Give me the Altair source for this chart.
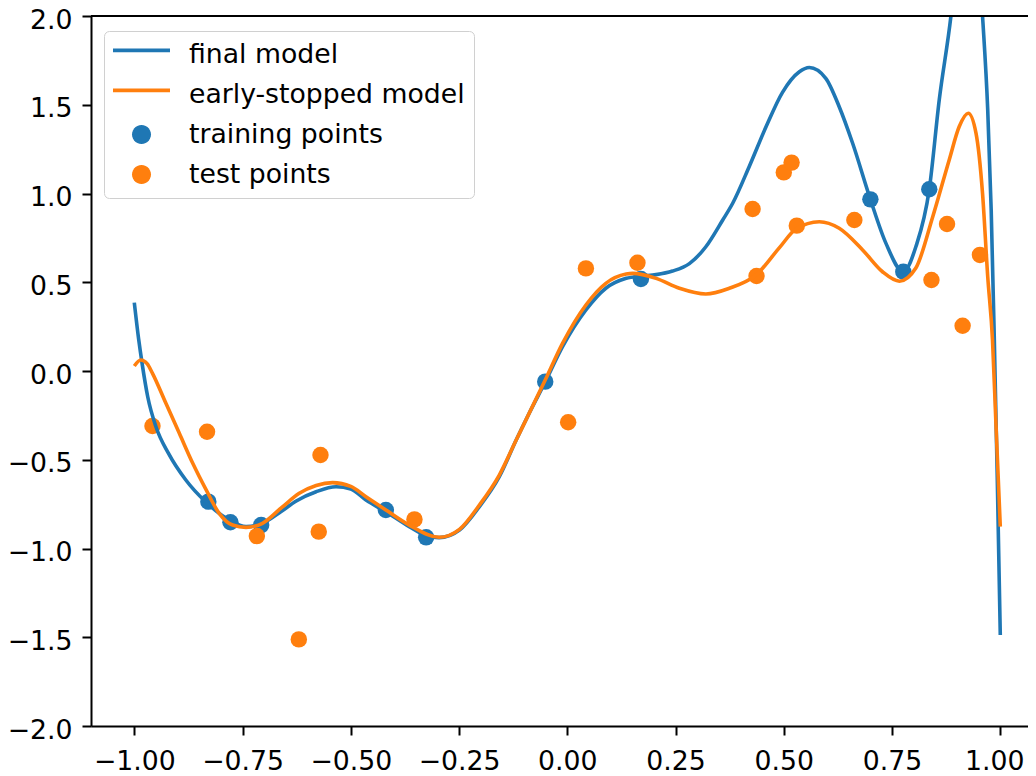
import math
import altair as alt
import pandas as pd

# ---------------- data ----------------
final_x = [-1.000, -0.990, -0.982, -0.969, -0.950, -0.921, -0.881, -0.836, -0.781, -0.742,
           -0.704, -0.660, -0.626, -0.580, -0.534, -0.500, -0.465, -0.419, -0.365, -0.326,
           -0.296, -0.249, -0.203, -0.157, -0.118, -0.088, -0.051, -0.011, 0.043, 0.089,
           0.136, 0.170, 0.205, 0.243, 0.282, 0.320, 0.359, 0.382, 0.420, 0.459, 0.497,
           0.536, 0.559, 0.597, 0.628, 0.659, 0.700, 0.736, 0.776, 0.805, 0.836,
           0.859, 0.886, 0.905, 0.925, 0.945, 0.959, 0.971, 0.979, 0.986, 0.993, 1.000]
final_y = [0.385, 0.180, 0.043, -0.145, -0.314, -0.464, -0.614, -0.735, -0.839, -0.877,
           -0.858, -0.790, -0.732, -0.680, -0.652, -0.665, -0.727, -0.793, -0.877, -0.928,
           -0.939, -0.896, -0.764, -0.595, -0.389, -0.238, -0.062, 0.137, 0.344, 0.466,
           0.522, 0.535, 0.543, 0.563, 0.605, 0.700, 0.851, 0.945, 1.151, 1.376, 1.570,
           1.686, 1.710, 1.649, 1.489, 1.283, 0.967, 0.719, 0.559, 0.700, 1.024,
           1.527, 2.000, 2.450, 2.700, 2.500, 2.000, 1.470, 0.907, 0.200, -0.600, -1.487]

early_x = [-1.000, -0.985, -0.970, -0.958, -0.927, -0.896, -0.865, -0.834, -0.804, -0.773,
           -0.742, -0.704, -0.660, -0.619, -0.580, -0.542, -0.500, -0.465, -0.419, -0.365,
           -0.296, -0.249, -0.203, -0.157, -0.118, -0.051, -0.011, 0.043, 0.089, 0.136,
           0.151, 0.205, 0.259, 0.320, 0.374, 0.436, 0.490, 0.528, 0.582, 0.628,
           0.682, 0.728, 0.767, 0.805, 0.844, 0.882, 0.905, 0.926, 0.944, 0.959,
           0.971, 0.982, 0.990, 1.000]
early_y = [0.028, 0.062, 0.040, -0.013, -0.182, -0.351, -0.520, -0.670, -0.802, -0.868,
           -0.881, -0.858, -0.770, -0.689, -0.645, -0.629, -0.650, -0.708, -0.783, -0.868,
           -0.937, -0.892, -0.755, -0.586, -0.389, -0.051, 0.156, 0.372, 0.494, 0.546,
           0.550, 0.522, 0.466, 0.434, 0.466, 0.541, 0.695, 0.800, 0.841, 0.804,
           0.682, 0.559, 0.506, 0.580, 0.869, 1.189, 1.376, 1.452, 1.339, 1.001,
           0.531, 0.175, -0.300, -0.877]

train_x = [-0.829, -0.778, -0.707, -0.419, -0.326, -0.051, 0.170, 0.700, 0.776, 0.836]
train_y = [-0.736, -0.852, -0.868, -0.783, -0.937, -0.060, 0.518, 0.967, 0.559, 1.024]

test_x = [-0.958, -0.832, -0.717, -0.620, -0.574, -0.570, -0.353, 0.002, 0.043, 0.162,
          0.428, 0.437, 0.500, 0.518, 0.530, 0.663, 0.841, 0.877, 0.913, 0.953]
test_y = [-0.310, -0.342, -0.930, -1.512, -0.905, -0.473, -0.836, -0.289, 0.578, 0.610,
          0.913, 0.535, 1.119, 1.174, 0.819, 0.851, 0.513, 0.828, 0.255, 0.654]

series_names = ["final model", "early-stopped model", "training points", "test points"]
series_colors = ["#1f77b4", "#ff7f0e", "#1f77b4", "#ff7f0e"]
BLUE, ORANGE = series_colors[0], series_colors[1]

x_ticks = [-1.0, -0.75, -0.5, -0.25, 0.0, 0.25, 0.5, 0.75, 1.0]
y_ticks = [-2.0, -1.5, -1.0, -0.5, 0.0, 0.5, 1.0, 1.5, 2.0]
top_spine_y = [2.0]

# legend glyphs (unit-square symbol paths): a short line and a dot
LINE_GLYPH = "M-1,-0.212L1,-0.212L1,-0.082L-1,-0.082Z"
_r, _dy = 0.333, 0.0
_pts = [(_r * math.cos(2 * math.pi * k / 28), _dy + _r * math.sin(2 * math.pi * k / 28)) for k in range(28)]
DOT_GLYPH = "M" + "L".join(f"{px:.4f},{py:.4f}" for px, py in _pts) + "Z"
legend_glyphs = [LINE_GLYPH, LINE_GLYPH, DOT_GLYPH, DOT_GLYPH]

# ---------------- tables ----------------
final_df = pd.DataFrame({"x": final_x, "y": final_y})
early_df = pd.DataFrame({"x": early_x, "y": early_y})
train_df = pd.DataFrame({"x": train_x, "y": train_y})
test_df = pd.DataFrame({"x": test_x, "y": test_y})
spine_df = pd.DataFrame({"y": top_spine_y})
# legend-only rows, placed outside the visible x-domain (clipped away)
legend_df = pd.DataFrame({"x": [5.0] * 4, "y": [0.0] * 4, "series": series_names})

FONT = "DejaVu Sans"
FS = 26.7

x_scale = alt.Scale(domain=[-1.1, 1.064], nice=False, zero=False)
y_scale = alt.Scale(domain=[-2.0, 2.0], nice=False, zero=False)
color_scale = alt.Scale(domain=series_names, range=series_colors)
shape_scale = alt.Scale(domain=series_names, range=legend_glyphs)

legend = alt.Legend(
    title=None,
    orient="none",
    legendX=13,
    legendY=15,
    labelFont=FONT,
    labelFontSize=FS,
    labelColor="#000000",
    labelLimit=600,
    fillColor="#ffffff",
    strokeColor="#d0d0d0",
    cornerRadius=5,
    padding=9,
    rowPadding=11,
    symbolOffset=0,
    labelOffset=19,
    clipHeight=29,
    symbolSize=3249,
    symbolStrokeWidth=0,
    symbolOpacity=1,
)

x_axis = alt.Axis(
    values=x_ticks, format=".2f", title=None, grid=False,
    labelFont=FONT, labelFontSize=FS, labelColor="#000000", labelPadding=13,
    labelOffset={"condition": {"test": "datum.value >= 1", "value": -6}, "value": 0},
    tickSize=9, tickWidth=2, tickColor="#000000",
    domainColor="#000000", domainWidth=2, labelFlush=False,
)
y_axis = alt.Axis(
    values=y_ticks, format=".1f", title=None, grid=False,
    labelFont=FONT, labelFontSize=FS, labelColor="#000000", labelPadding=10,
    labelOffset=4,
    tickSize=9, tickWidth=2, tickColor="#000000",
    domainColor="#000000", domainWidth=2, labelFlush=False,
)

train_pts = alt.Chart(train_df).mark_circle(size=270, opacity=1).encode(
    x=alt.X("x:Q", scale=x_scale, axis=x_axis),
    y=alt.Y("y:Q", scale=y_scale, axis=y_axis),
    color=alt.value(BLUE),
)
test_pts = alt.Chart(test_df).mark_circle(size=270, opacity=1).encode(
    x=alt.X("x:Q", scale=x_scale),
    y=alt.Y("y:Q", scale=y_scale),
    color=alt.value(ORANGE),
)

final_line = alt.Chart(final_df).mark_line(
    strokeWidth=3.6, interpolate="monotone", clip=True
).encode(
    x=alt.X("x:Q", scale=x_scale),
    y=alt.Y("y:Q", scale=y_scale),
    color=alt.value(BLUE),
)

early_line = alt.Chart(early_df).mark_line(
    strokeWidth=3.6, interpolate="monotone", clip=True
).encode(
    x=alt.X("x:Q", scale=x_scale),
    y=alt.Y("y:Q", scale=y_scale),
    color=alt.value(ORANGE),
)

top_spine = alt.Chart(spine_df).mark_rule(color="#000000", strokeWidth=2).encode(
    y=alt.Y("y:Q", scale=y_scale),
)

legend_layer = alt.Chart(legend_df).mark_point(
    filled=True, size=3249, opacity=1, clip=True
).encode(
    x=alt.X("x:Q", scale=x_scale),
    y=alt.Y("y:Q", scale=y_scale),
    color=alt.Color("series:N", scale=color_scale, legend=legend),
    shape=alt.Shape("series:N", scale=shape_scale, legend=legend),
)

chart = alt.layer(train_pts, test_pts, final_line, early_line, top_spine, legend_layer).properties(
    width=937,
    height=710,
    padding={"left": 83, "top": 8, "right": 0, "bottom": 50},
    autosize=alt.AutoSizeParams(type="none"),
).configure_view(
    strokeWidth=0
).configure(
    font=FONT
)

chart.save("out.html", embed_options={"renderer": "svg", "actions": False})
